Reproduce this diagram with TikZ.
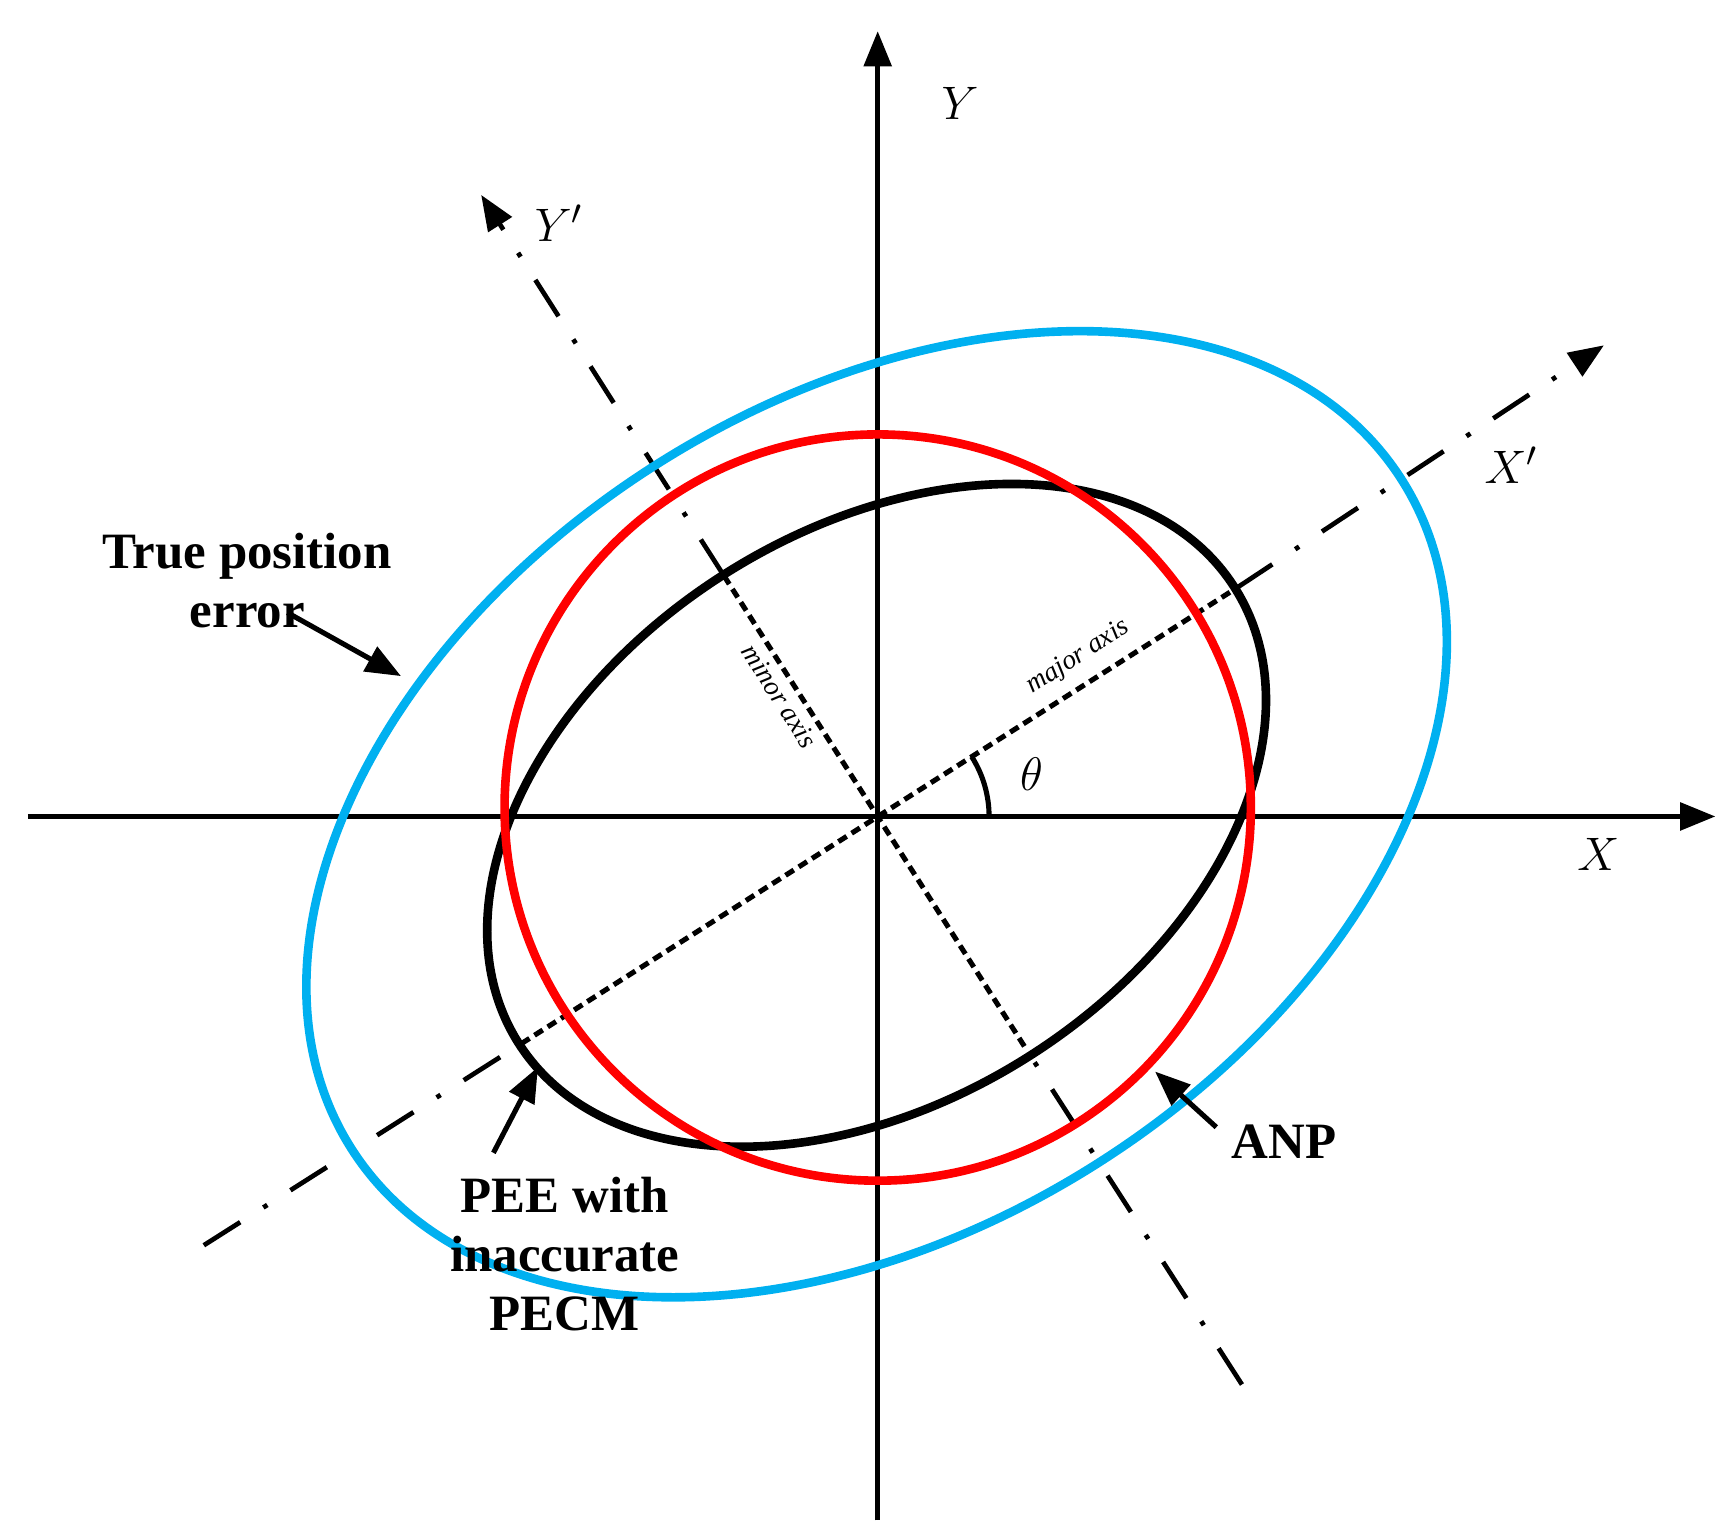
\documentclass[tikz,border=0pt]{standalone}
\usepackage{fontspec}
\setmainfont{Liberation Serif}
\usetikzlibrary{arrows.meta,calc}
\definecolor{tblue}{RGB}{0,176,240}
\begin{document}
\begin{tikzpicture}[x=0.01cm,y=-0.01cm,
  ax/.style={line width=1.2pt,-{Triangle[length=9pt,width=7pt]}},
  dd/.style={line width=1.2pt,dash pattern=on 11pt off 7pt on 1.2pt off 7pt},
  dt/.style={line width=1.3pt,dash pattern=on 2.5pt off 1.5pt},
  lab/.style={font=\fontsize{13}{15}\selectfont\itshape},
  bl/.style={font=\fontsize{13}{15}\selectfont\bfseries,align=center},
  pt/.style={line width=1.3pt,-{Triangle[length=9pt,width=7pt]}}]
\useasboundingbox (0,0) rectangle (1555,1378);
\coordinate (O) at (788,733);
\coordinate (xl) at (25,733); \coordinate (xr) at (1540,733);
\coordinate (yb) at (788,1365); \coordinate (yt) at (788,28);
\coordinate (ypb) at (1115,1243); \coordinate (ypt) at (432,175);
\coordinate (xpb) at (183,1118); \coordinate (xpt) at (1440,310);
\draw[ax] (xl) -- (xr);
\draw[ax] (yb) -- (yt);
\draw[dd] (ypb) -- (922,943);
\draw[dd] (650,517) -- ($(650,517)!0.93!(ypt)$);
\draw[line width=1.2pt,-{Triangle[length=9pt,width=7pt]}] ($(650,517)!0.94!(ypt)$) -- (ypt);
\draw[dd] (xpb) -- (468,937);
\draw[dd] (1110,528) -- ($(1110,528)!0.92!(xpt)$);
\draw[line width=1.2pt,-{Triangle[length=9pt,width=7pt]}] ($(1110,528)!0.93!(xpt)$) -- (xpt);
\draw[dt] (468,937) -- (1110,528);
\draw[dt] (650,517) -- (922,943);
\draw[line width=1.3pt] (888,733) arc[start angle=0,end angle=-32.5,radius=100];
\draw[line width=2.2pt,black] (787,732) ellipse[x radius=381,y radius=256,rotate=32.5];
\draw[line width=2.2pt,red] (788,725) circle[radius=335];
\draw[line width=2.2pt,tblue] (787,731) ellipse[x radius=559,y radius=371,rotate=32.5];
\node[lab] (Y) at (862,93) {$Y$};
\node[lab] (Yp) at (502,200) {$Y'$};
\node[lab] (Xp) at (1357,418) {$X'$};
\node[lab] (X) at (1435,767) {$X$};
\node[lab] (th) at (926,695) {$\theta$};
\node[font=\fontsize{7}{8}\selectfont\itshape,rotate=-57.5,inner sep=0pt] (mi) at (700,625) {minor axis};
\node[font=\fontsize{7}{8}\selectfont\itshape,rotate=32.5,inner sep=0pt] (ma) at (968,590) {major axis};
\node[bl] (tpe) at (222,521) {True position\\error};
\coordinate (tpe1) at (258,550); \coordinate (tpe2) at (360,607);
\draw[pt] (tpe1) -- (tpe2);
\node[bl] (anp) at (1153,1025) {ANP};
\coordinate (a1) at (1092,1012); \coordinate (a2) at (1037,962);
\draw[pt] (a1) -- (a2);
\node[bl] (pee) at (507,1126) {PEE with\\inaccurate\\PECM};
\coordinate (p1) at (443,1035); \coordinate (p2) at (483,958);
\draw[pt] (p1) -- (p2);
\end{tikzpicture}
\end{document}
